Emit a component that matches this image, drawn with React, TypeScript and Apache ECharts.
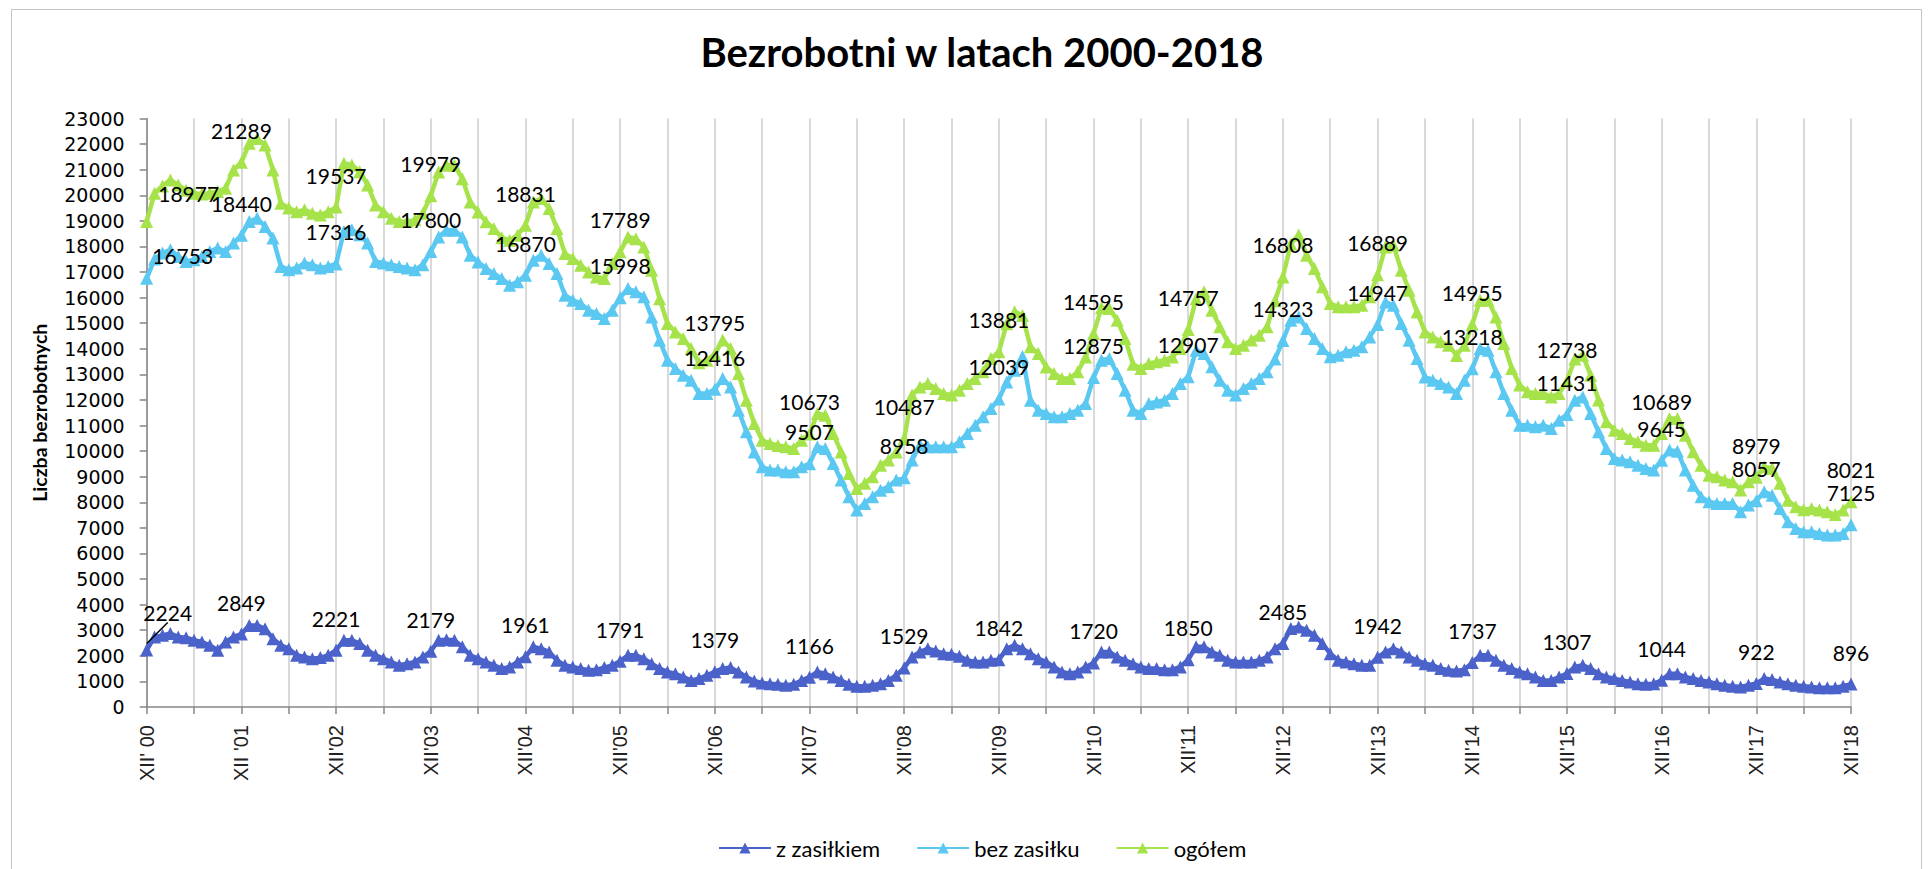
import React, { useEffect, useRef } from "react";
import * as echarts from "echarts";

const tickLabels = [
  "XII' 00", "XII '01", "XII'02", "XII'03", "XII'04", "XII'05", "XII'06",
  "XII'07", "XII'08", "XII'09", "XII'10", "XII'11", "XII'12", "XII'13",
  "XII'14", "XII'15", "XII'16", "XII'17", "XII'18",
];

const seriesNames = ["z zasiłkiem", "bez zasiłku", "ogółem"];

const zZasilkiem = [
  2224, 2740, 2800, 2870, 2740, 2710, 2610, 2540, 2410, 2220, 2540, 2740,
  2849, 3190, 3190, 3060, 2670, 2410, 2280, 2020, 1955, 1890, 1930, 2020,
  2221, 2610, 2610, 2480, 2220, 2020, 1890, 1760, 1630, 1695, 1760, 1955,
  2179, 2610, 2630, 2610, 2350, 2020, 1890, 1760, 1630, 1500, 1565, 1760,
  1961, 2350, 2280, 2150, 1825, 1630, 1565, 1500, 1435, 1460, 1540, 1630,
  1791, 2020, 2020, 1890, 1695, 1500, 1370, 1300, 1170, 1040, 1110, 1240,
  1379, 1500, 1540, 1370, 1170, 1015, 940, 910, 885, 850, 885, 1040,
  1166, 1370, 1300, 1170, 1040, 885, 810, 810, 850, 910, 1040, 1240,
  1529, 1955, 2150, 2280, 2190, 2085, 2060, 1980, 1825, 1760, 1760, 1825,
  1842, 2280, 2410, 2280, 2085, 1890, 1760, 1565, 1370, 1300, 1370, 1565,
  1720, 2150, 2150, 1955, 1825, 1695, 1565, 1500, 1500, 1460, 1460, 1565,
  1850, 2350, 2350, 2150, 2020, 1825, 1760, 1760, 1760, 1825, 1955, 2280,
  2485, 3065, 3130, 3000, 2800, 2480, 2085, 1825, 1760, 1695, 1630, 1630,
  1942, 2150, 2280, 2150, 1955, 1825, 1695, 1630, 1500, 1435, 1410, 1460,
  1737, 2020, 2020, 1825, 1630, 1500, 1370, 1300, 1170, 1040, 1040, 1170,
  1307, 1565, 1630, 1500, 1300, 1170, 1110, 1040, 975, 910, 885, 910,
  1044, 1300, 1300, 1170, 1110, 1040, 975, 910, 850, 810, 780, 850,
  922, 1110, 1070, 975, 910, 850, 810, 780, 755, 755, 755, 810,
  896,
];

const bezZasilku = [
  16753, 17506, 17740, 17870, 17610, 17415, 17480, 17610, 17800, 17935, 17800, 18130,
  18440, 18970, 19100, 18780, 18325, 17220, 17090, 17155, 17350, 17285, 17155, 17220,
  17316, 18585, 18650, 18455, 18130, 17415, 17350, 17285, 17220, 17155, 17090, 17285,
  17800, 18370, 18630, 18630, 18370, 17655, 17395, 17135, 16940, 16745, 16485, 16615,
  16870, 17460, 17655, 17330, 16940, 16095, 15900, 15770, 15510, 15380, 15180, 15510,
  15998, 16355, 16225, 16030, 15245, 14335, 13555, 13230, 12970, 12775, 12250, 12250,
  12416, 12840, 12510, 11600, 10755, 9970, 9390, 9260, 9260, 9190, 9190, 9390,
  9507, 10170, 10100, 9520, 8870, 8215, 7695, 7955, 8215, 8475, 8605, 8870,
  8958, 9650, 10235, 10170, 10170, 10170, 10170, 10365, 10690, 11015, 11340, 11665,
  12039, 12700, 13160, 13700, 11990, 11600, 11470, 11340, 11340, 11470, 11600, 11860,
  12875, 13555, 13620, 13035, 12380, 11600, 11470, 11860, 11925, 11990, 12250, 12645,
  12907, 13945, 13815, 13295, 12775, 12380, 12190, 12450, 12645, 12840, 13100, 13600,
  14323, 15120, 15245, 14790, 14400, 14010, 13685, 13750, 13880, 13945, 14075, 14465,
  14947, 15830, 15700, 14985, 14335, 13620, 12900, 12775, 12645, 12510, 12250, 12775,
  13218, 14010, 13945, 13100, 12250, 11600, 11015, 11015, 10950, 11015, 10885, 11210,
  11431, 11990, 12120, 11470, 10755, 10105, 9715, 9650, 9585, 9450, 9325, 9260,
  9645, 10040, 10000, 9260, 8670, 8215, 8020, 7955, 7955, 7955, 7630, 7890,
  8057, 8410, 8280, 7760, 7240, 6980, 6850, 6850, 6785, 6720, 6720, 6785,
  7125,
];

const ogolem = [
  18977, 20078, 20364, 20600, 20400, 20200, 20080, 20050, 20080, 20150, 20270, 20990,
  21289, 22030, 22220, 21960, 20990, 19690, 19500, 19360, 19430, 19300, 19230, 19360,
  19537, 21250, 21180, 20920, 20400, 19620, 19360, 19100, 18970, 18970, 19040, 19300,
  19979, 20910, 21170, 21170, 20650, 19740, 19350, 18960, 18700, 18340, 18240, 18440,
  18831, 19740, 19870, 19480, 18700, 17720, 17530, 17265, 17000, 16810, 16745, 17330,
  17789, 18370, 18300, 17980, 17070, 15960, 14990, 14660, 14400, 14010, 13450, 13550,
  13795, 14340, 14010, 13030, 11990, 11080, 10430, 10300, 10220, 10170, 10100, 10430,
  10673, 11470, 11400, 10690, 9970, 9130, 8540, 8740, 9000, 9450, 9650, 9970,
  10487, 12190, 12510, 12640, 12450, 12250, 12190, 12380, 12640, 12840, 13100, 13620,
  13881, 14980, 15450, 15300, 14075, 13815, 13290, 13030, 12840, 12840, 13100, 13680,
  14595, 15600, 15570, 15120, 14400, 13400, 13230, 13425, 13490, 13550, 13680, 14010,
  14757, 15960, 16225, 15510, 14860, 14270, 14010, 14140, 14340, 14530, 14860, 15880,
  16808, 18100, 18450, 17660, 17135, 16420, 15770, 15640, 15640, 15640, 15700, 16030,
  16889, 17980, 18050, 17070, 16290, 15440, 14660, 14465, 14270, 14140, 13740, 14140,
  14955, 15900, 15900, 15245, 14205, 13230, 12580, 12320, 12250, 12250, 12120, 12250,
  12738, 13600, 13750, 12970, 12000, 11150, 10820, 10690, 10495, 10365, 10234, 10234,
  10689, 11275, 11275, 10625, 9975, 9450, 9060, 9000, 8870, 8800, 8480, 8800,
  8979, 9390, 9325, 8740, 8085, 7825, 7710, 7760, 7695, 7630, 7520, 7695,
  8021,
];

const colors = ["#4A62C9", "#5BC8F2", "#A6E34B"];
const romans = ["I", "II", "III", "IV", "V", "VI", "VII", "VIII", "IX", "X", "XI", "XII"];

const categories = zZasilkiem.map((_, i) => {
  const k = 11 + i;
  const y = (k - (k % 12)) / 12;
  return romans[k % 12] + "'" + String(y).padStart(2, "0");
});

const labelFont = { fontFamily: "Lato", fontSize: 21, color: "#000" };

function makeLabelData(vals: number[], firstLabel: any, firstExtra: any = {}) {
  return vals.map((v, i) => {
    if (i % 12 !== 0) return v;
    return {
      value: v,
      label: { show: true, ...(i === 0 ? firstLabel : {}) },
      ...(i === 0 ? firstExtra : {}),
    };
  });
}

export default function App() {
  const ref = useRef<HTMLDivElement>(null);
  useEffect(() => {
    document.documentElement.style.overflow = "hidden";
    if (!ref.current) return;
    const chart = echarts.init(ref.current, null, { renderer: "svg" });
    const SYM = 13;
    const mainSeries = (name: string, idx: number, data: number[]) => ({
      name,
      type: "line",
      data,
      symbol: "triangle",
      symbolSize: SYM,
      smooth: false,
      color: colors[idx],
      lineStyle: { width: 4.5, color: colors[idx] },
      itemStyle: { color: colors[idx] },
      label: { show: false },
      emphasis: { disabled: true },
      z: 2,
    });
    const labelSeries = (idx: number, data: any[], extra: any = {}) => ({
      type: "line",
      data,
      symbol: "triangle",
      symbolSize: SYM,
      lineStyle: { width: 0, opacity: 0 },
      itemStyle: { color: "rgba(0,0,0,0)" },
      label: { show: false, position: "top", distance: 15, ...labelFont },
      emphasis: { disabled: true },
      silent: true,
      z: 10,
      ...extra,
    });
    chart.setOption({
      animation: false,
      graphic: [
        {
          type: "text",
          x: 970,
          y: 42,
          style: {
            text: "Bezrobotni w latach 2000-2018",
            font: "bold 40px Lato",
            fill: "#000",
            align: "center",
            verticalAlign: "middle",
          },
        },
      ],
      legend: {
        left: 701,
        top: 822,
        itemWidth: 52,
        itemHeight: 14,
        itemGap: 36,
        textStyle: { fontFamily: "Lato", fontSize: 22, color: "#000" },
        data: seriesNames,
      },
      grid: { left: 134.7, top: 108.5, width: 1704.3, height: 588.5, containLabel: false },
      xAxis: {
        type: "category",
        data: categories,
        boundaryGap: false,
        axisLine: { lineStyle: { color: "#868686", width: 1.5 } },
        axisTick: { show: true, interval: 5, length: 7, lineStyle: { color: "#868686", width: 1.5 } },
        splitLine: { show: true, interval: 5, lineStyle: { color: "#d9d9d9", width: 2 } },
        axisLabel: {
          interval: 0,
          rotate: 90,
          margin: 18,
          fontFamily: "Liberation Sans",
          fontSize: 20,
          color: "#222",
          formatter: (_v: string, i: number) => (i % 12 === 0 ? tickLabels[i / 12] : ""),
        },
      },
      yAxis: {
        type: "value",
        min: 0,
        max: 23000,
        interval: 1000,
        name: "Liczba bezrobotnych",
        nameLocation: "middle",
        nameGap: 97,
        nameTextStyle: { fontFamily: "Lato", fontWeight: "bold", fontSize: 19.5, color: "#000" },
        axisLine: { show: true, lineStyle: { color: "#868686", width: 1.5 } },
        axisTick: { show: true, length: 7, lineStyle: { color: "#868686", width: 1.5 } },
        splitLine: { show: false },
        axisLabel: {
          margin: 22,
          fontFamily: "DejaVu Sans",
          fontSize: 19,
          color: "#000",
          formatter: (v: number) => String(v),
        },
      },
      series: [
        mainSeries(seriesNames[0], 0, zZasilkiem),
        mainSeries(seriesNames[1], 1, bezZasilku),
        mainSeries(seriesNames[2], 2, ogolem),
        labelSeries(0, makeLabelData(zZasilkiem, {}, { labelLine: { show: true } }), {
          labelLine: { show: false, lineStyle: { color: "#000", width: 1.5 } },
          labelLayout: (p: any) => (p.dataIndex === 0 ? { dx: 21, dy: -6 } : {}),
        }),
        labelSeries(1, makeLabelData(bezZasilku, { offset: [36, 9] })),
        labelSeries(2, makeLabelData(ogolem, { offset: [42, 4] })),
      ],
    });
    return () => chart.dispose();
  }, []);
  return (
    <div
      style={{
        position: "absolute",
        left: 11,
        top: 9,
        width: 1911,
        height: 880,
        border: "1px solid #c4c4c4",
        boxSizing: "border-box",
      }}
    >
      <div ref={ref} style={{ width: 1908, height: 878 }} />
    </div>
  );
}
